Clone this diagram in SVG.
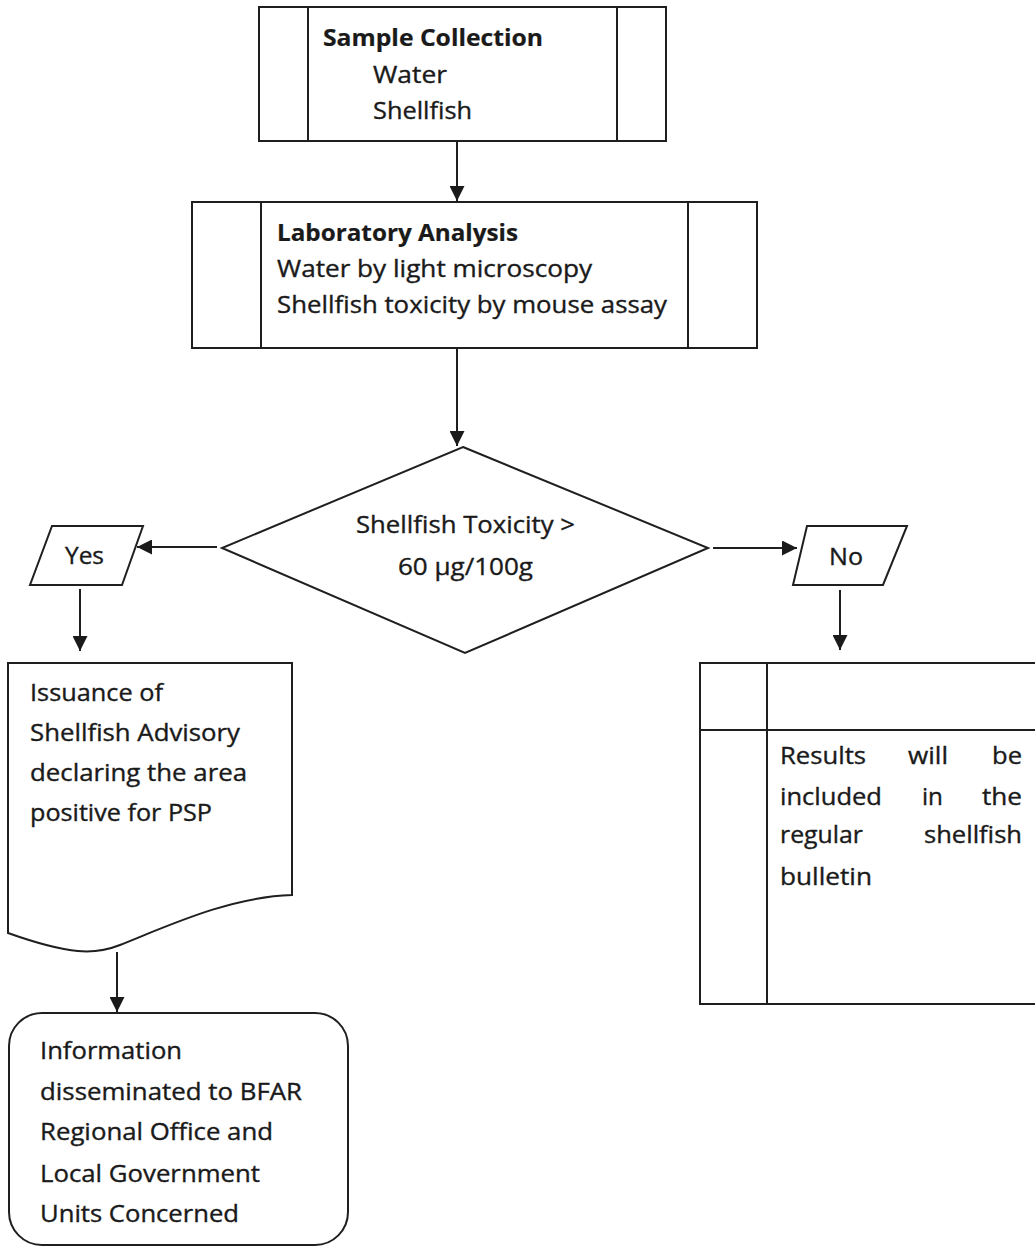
<svg xmlns="http://www.w3.org/2000/svg" width="1035" height="1251" viewBox="0 0 1035 1251">
<style>
.s{fill:none;stroke:#1f1f1f;stroke-width:2}
.w{fill:#fff;stroke:#1f1f1f;stroke-width:2}
.t{font-family:"Open Sans","Liberation Sans",sans-serif;font-size:23px;fill:#1a1a1a;stroke:#1a1a1a;stroke-width:0.35}
.b{font-weight:700;stroke-width:0.2}
.c{stroke:#1f1f1f;stroke-width:2;fill:none;marker-end:url(#ah)}
</style>
<defs>
<marker id="ah" viewBox="0 0 10 10" refX="10" refY="5" markerWidth="15" markerHeight="15" markerUnits="userSpaceOnUse" orient="auto">
<path d="M0,0 L10,5 L0,10 z" fill="#1a1a1a"/>
</marker>
</defs>
<rect width="1035" height="1251" fill="#fff"/>

<g id="connectors">
<line class="c" x1="457" y1="141" x2="457" y2="201"/>
<line class="c" x1="457" y1="348" x2="457" y2="446"/>
<line class="c" x1="217" y1="547" x2="137" y2="547"/>
<line class="c" x1="713" y1="548" x2="797" y2="548"/>
<line class="c" x1="80" y1="589" x2="80" y2="651"/>
<line class="c" x1="840" y1="590" x2="840" y2="650"/>
<line class="c" x1="117" y1="952" x2="117" y2="1012"/>
</g>

<g id="sample-collection">
<rect class="w" x="259" y="7" width="407" height="134"/>
<line class="s" x1="308" y1="7" x2="308" y2="141"/>
<line class="s" x1="617" y1="7" x2="617" y2="141"/>
<text class="t b" x="323" y="46" textLength="220" lengthAdjust="spacingAndGlyphs">Sample Collection</text>
<text class="t" x="373" y="83" textLength="74" lengthAdjust="spacingAndGlyphs">Water</text>
<text class="t" x="373" y="119" textLength="99" lengthAdjust="spacingAndGlyphs">Shellfish</text>
</g>

<g id="laboratory-analysis">
<rect class="w" x="192" y="202" width="565" height="146"/>
<line class="s" x1="261" y1="202" x2="261" y2="348"/>
<line class="s" x1="688" y1="202" x2="688" y2="348"/>
<text class="t b" x="277" y="241" textLength="241" lengthAdjust="spacingAndGlyphs">Laboratory Analysis</text>
<text class="t" x="277" y="277" textLength="315" lengthAdjust="spacingAndGlyphs">Water by light microscopy</text>
<text class="t" x="277" y="313" textLength="390" lengthAdjust="spacingAndGlyphs">Shellfish toxicity by mouse assay</text>
</g>

<g id="decision">
<polygon class="w" points="463,447 708,548 465,653 222,548"/>
<text class="t" x="356" y="533" textLength="219" lengthAdjust="spacingAndGlyphs">Shellfish Toxicity &gt;</text>
<text class="t" x="398" y="575" textLength="135" lengthAdjust="spacingAndGlyphs">60 μg/100g</text>
</g>

<g id="yes">
<polygon class="w" points="52,526 143,526 122,585 30,585"/>
<text class="t" x="65" y="564" textLength="39" lengthAdjust="spacingAndGlyphs">Yes</text>
</g>

<g id="no">
<polygon class="w" points="807,526 907,526 883,585 793,585"/>
<text class="t" x="829" y="565" textLength="34" lengthAdjust="spacingAndGlyphs">No</text>
</g>

<g id="advisory">
<path class="w" d="M8,663 L292,663 L292,895 C230,897 170,925 120,945 C95,955 70,955 8,933 Z"/>
<text class="t" x="30" y="701" textLength="133" lengthAdjust="spacingAndGlyphs">Issuance of</text>
<text class="t" x="30" y="741" textLength="210" lengthAdjust="spacingAndGlyphs">Shellfish Advisory</text>
<text class="t" x="30" y="781" textLength="217" lengthAdjust="spacingAndGlyphs">declaring the area</text>
<text class="t" x="30" y="821" textLength="182" lengthAdjust="spacingAndGlyphs">positive for PSP</text>
</g>

<g id="information">
<rect class="w" x="9" y="1013" width="339" height="232" rx="33" ry="33"/>
<text class="t" x="40" y="1059" textLength="142" lengthAdjust="spacingAndGlyphs">Information</text>
<text class="t" x="40" y="1100" textLength="262" lengthAdjust="spacingAndGlyphs">disseminated to BFAR</text>
<text class="t" x="40" y="1140" textLength="233" lengthAdjust="spacingAndGlyphs">Regional Office and</text>
<text class="t" x="40" y="1182" textLength="220" lengthAdjust="spacingAndGlyphs">Local Government</text>
<text class="t" x="40" y="1222" textLength="199" lengthAdjust="spacingAndGlyphs">Units Concerned</text>
</g>

<g id="results">
<rect class="w" x="700" y="663" width="345" height="341"/>
<line class="s" x1="767" y1="663" x2="767" y2="1004"/>
<line class="s" x1="700" y1="730" x2="1035" y2="730"/>
<text class="t" x="780" y="764" textLength="86" lengthAdjust="spacingAndGlyphs">Results</text>
<text class="t" x="908" y="764" textLength="40" lengthAdjust="spacingAndGlyphs">will</text>
<text class="t" x="992" y="764" textLength="30" lengthAdjust="spacingAndGlyphs">be</text>
<text class="t" x="780" y="805" textLength="102" lengthAdjust="spacingAndGlyphs">included</text>
<text class="t" x="922" y="805" textLength="21" lengthAdjust="spacingAndGlyphs">in</text>
<text class="t" x="982" y="805" textLength="40" lengthAdjust="spacingAndGlyphs">the</text>
<text class="t" x="780" y="843" textLength="83" lengthAdjust="spacingAndGlyphs">regular</text>
<text class="t" x="924" y="843" textLength="98" lengthAdjust="spacingAndGlyphs">shellfish</text>
<text class="t" x="780" y="885" textLength="92" lengthAdjust="spacingAndGlyphs">bulletin</text>
</g>
</svg>
